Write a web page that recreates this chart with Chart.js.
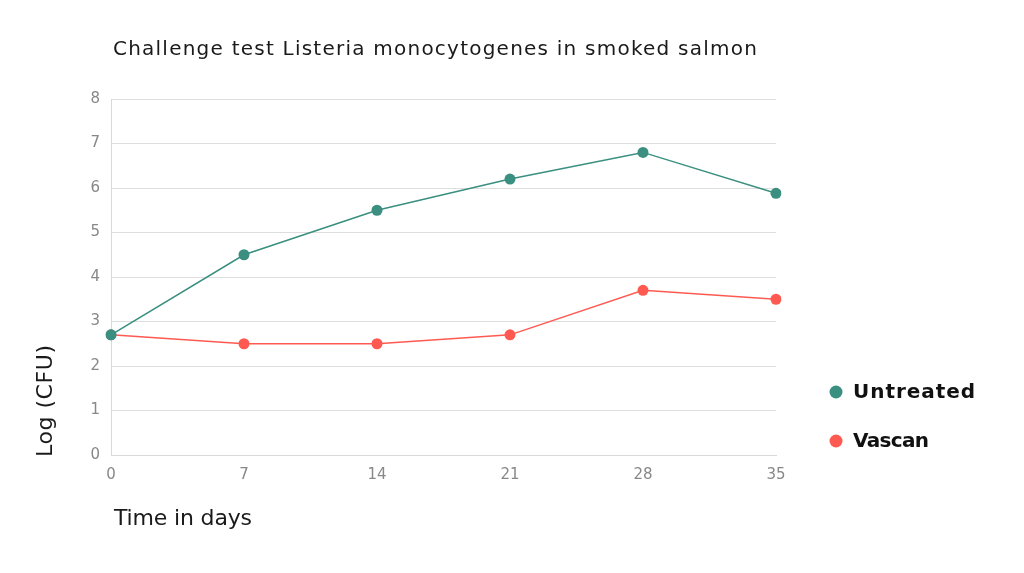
<!DOCTYPE html>
<html>
<head>
<meta charset="utf-8">
<script src="https://cdn.jsdelivr.net/npm/chart.js@4.4.1/dist/chart.umd.min.js"></script>
<style>
  html, body { margin: 0; padding: 0; background: #fff; }
  #wrap { width: 1024px; height: 573px; position: relative; }
</style>
</head>
<body>
<div id="wrap"><canvas id="chart" width="1024" height="573"></canvas></div>
<script>
// --- Data ---
const days = ["0", "7", "14", "21", "28", "35"];
const untreated = [2.7, 4.5, 5.5, 6.2, 6.8, 5.88];
const vascan = [2.7, 2.5, 2.5, 2.7, 3.7, 3.5];
const yTicks = [0, 1, 2, 3, 4, 5, 6, 7, 8];

const TEAL = "#3a8f80";
const RED = "#ff5a52";
const FONT = "'DejaVu Sans', sans-serif";

// draw text stretched to roughly the width it has in the original
function fitText(ctx, text, x, y, width) {
  ctx.letterSpacing = "0px";
  const w = ctx.measureText(text).width;
  const sp = (width - w) / Math.max(1, text.length - 1);
  ctx.letterSpacing = sp.toFixed(2) + "px";
  ctx.fillText(text, x, y);
  ctx.letterSpacing = "0px";
}

// --- Extra text (title, axis titles, legend) ---
const textPlugin = {
  id: "texts",
  afterDraw(chart) {
    const ctx = chart.ctx;
    ctx.save();
    ctx.fillStyle = "#1a1a1a";
    ctx.textBaseline = "middle";
    ctx.textAlign = "left";

    ctx.font = "20px " + FONT;
    fitText(ctx, "Challenge test Listeria monocytogenes in smoked salmon", 113, 50, 644);
    ctx.font = "22px " + FONT;
    fitText(ctx, "Time in days", 114, 519, 138);

    ctx.save();
    ctx.translate(46, 457);
    ctx.rotate(-Math.PI / 2);
    fitText(ctx, "Log (CFU)", 0, 0, 112);
    ctx.restore();

    // legend
    const items = [["Untreated", TEAL, 392, 122], ["Vascan", RED, 441, 76]];
    ctx.font = "bold 20px " + FONT;
    items.forEach(([label, color, y, w]) => {
      ctx.fillStyle = color;
      ctx.beginPath();
      ctx.arc(836, y, 6.5, 0, Math.PI * 2);
      ctx.fill();
      ctx.fillStyle = "#111";
      fitText(ctx, label, 853, y + 1, w);
    });
    ctx.restore();
  }
};

new Chart(document.getElementById("chart"), {
  type: "line",
  data: {
    labels: days,
    datasets: [
      {
        label: "Untreated",
        data: untreated,
        borderColor: TEAL,
        backgroundColor: TEAL,
        pointBackgroundColor: TEAL,
        borderWidth: 1.5,
        pointRadius: 5.5,
        pointBorderWidth: 0
      },
      {
        label: "Vascan",
        data: vascan,
        borderColor: RED,
        backgroundColor: RED,
        pointBackgroundColor: ["#9a8580", RED, RED, RED, RED, RED],
        borderWidth: 1.5,
        pointRadius: 5.5,
        pointBorderWidth: 0
      }
    ]
  },
  options: {
    responsive: false,
    animation: false,
    layout: { padding: { left: 0, right: 248, top: 99, bottom: 0 } },
    plugins: { legend: { display: false }, tooltip: { enabled: false } },
    scales: {
      x: {
        grid: { display: false, drawTicks: false },
        border: { display: true, color: "#d9d9d9" },
        ticks: { color: "#888", font: { size: 15, family: FONT }, padding: 11 },
        afterFit(scale) { scale.height = 118; }
      },
      y: {
        min: 0,
        max: 8,
        afterBuildTicks(scale) { scale.ticks = yTicks.map(v => ({ value: v })); },
        grid: { color: "#dedede", drawTicks: false, lineWidth: 1 },
        border: { display: true, color: "#d9d9d9" },
        ticks: { color: "#888", font: { size: 15, family: FONT }, padding: 11 },
        afterFit(scale) { scale.width = 111; }
      }
    }
  },
  plugins: [textPlugin]
});
</script>
</body>
</html>
